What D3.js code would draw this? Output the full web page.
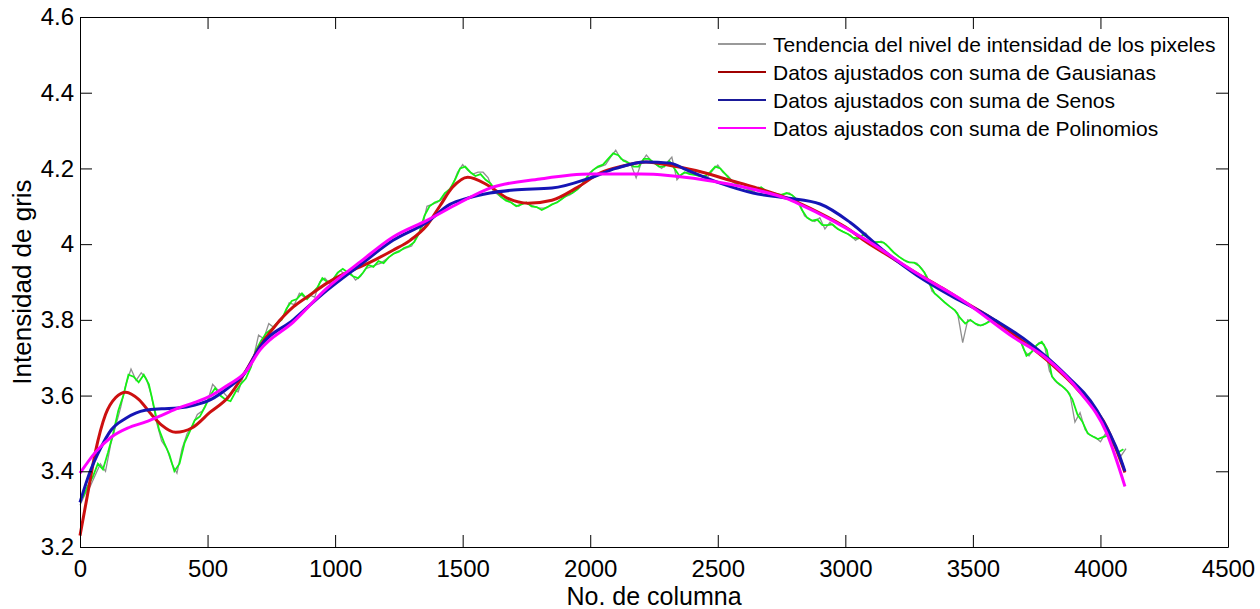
<!DOCTYPE html>
<html>
<head>
	<meta charset="utf-8">
	<title>Intensidad de gris</title>
	<script src="https://cdnjs.cloudflare.com/ajax/libs/d3/7.8.5/d3.min.js"></script>
	<style>
		body { margin: 0; background: #fff; }
		svg { display: block; font-family: "Liberation Sans", Arial, sans-serif; }
		.axis text { font-size: 24px; fill: #000; }
		.axis path, .axis line { stroke: #000; stroke-width: 1; }
	</style>
</head>
<body>
<svg id="chart" width="1260" height="609"></svg>
<script>
// ticks
const xTicks = [0, 500, 1000, 1500, 2000, 2500, 3000, 3500, 4000, 4500];
const yTicks = [3.2, 3.4, 3.6, 3.8, 4.0, 4.2, 4.4, 4.6];
const yTickLabels = ["3.2", "3.4", "3.6", "3.8", "4", "4.2", "4.4", "4.6"];

// raw pixel trend (gray), one value every 20 columns starting at 0
const grayStep = 20;
const grayValues = [
	3.31, 3.34, 3.36, 3.39, 3.42, 3.40, 3.47, 3.52, 3.57, 3.63,
	3.67, 3.64, 3.66, 3.645, 3.60, 3.53, 3.48, 3.46, 3.42, 3.395,
	3.46, 3.50, 3.52, 3.55, 3.56, 3.585, 3.63, 3.615, 3.61, 3.595,
	3.615, 3.61, 3.65, 3.67, 3.70, 3.76, 3.75, 3.79, 3.78, 3.80,
	3.81, 3.845, 3.84, 3.87, 3.86, 3.865, 3.86, 3.90, 3.91, 3.895,
	3.915, 3.93, 3.92, 3.925, 3.905, 3.915, 3.935, 3.94, 3.945, 3.95,
	3.96, 3.97, 3.98, 3.985, 3.99, 3.995, 4.02, 4.04, 4.10, 4.105,
	4.11, 4.12, 4.14, 4.155, 4.19, 4.21, 4.195, 4.185, 4.19, 4.19,
	4.175, 4.14, 4.13, 4.12, 4.115, 4.105, 4.10, 4.11, 4.105, 4.10,
	4.095, 4.095, 4.10, 4.108, 4.115, 4.125, 4.13, 4.14, 4.15, 4.165,
	4.19, 4.20, 4.205, 4.21, 4.23, 4.248, 4.225, 4.22, 4.21, 4.175,
	4.215, 4.235, 4.22, 4.21, 4.20, 4.215, 4.23, 4.17, 4.185, 4.19,
	4.185, 4.182, 4.18, 4.177, 4.195, 4.209, 4.19, 4.18, 4.165, 4.155,
	4.15, 4.145, 4.137, 4.15, 4.145, 4.137, 4.135, 4.13, 4.132, 4.135,
	4.125, 4.11, 4.075, 4.065, 4.06, 4.07, 4.04, 4.058, 4.045, 4.037,
	4.03, 4.024, 4.01, 4.02, 4.029, 4.008, 4.003, 4.008, 4.00, 3.984,
	3.972, 3.962, 3.953, 3.952, 3.95, 3.935, 3.915, 3.875, 3.865, 3.852,
	3.84, 3.83, 3.818, 3.74, 3.80, 3.795, 3.785, 3.786, 3.795, 3.80,
	3.795, 3.785, 3.778, 3.765, 3.755, 3.72, 3.705, 3.725, 3.74, 3.735,
	3.665, 3.64, 3.628, 3.62, 3.605, 3.53, 3.555, 3.51, 3.495, 3.49,
	3.478, 3.50, 3.48, 3.46, 3.44, 3.46
];

// second noisy trace (green), one value every 20 columns starting at 10
const greenStart = 10;
const greenStep = 20;
const greenValues = [
	3.33, 3.36, 3.385, 3.42, 3.405, 3.45, 3.50, 3.56, 3.60, 3.655,
	3.65, 3.635, 3.655, 3.63, 3.57, 3.51, 3.475, 3.445, 3.40, 3.42,
	3.475, 3.505, 3.535, 3.545, 3.57, 3.60, 3.62, 3.60, 3.59, 3.585,
	3.61, 3.63, 3.645, 3.675, 3.72, 3.745, 3.765, 3.775, 3.79, 3.80,
	3.83, 3.85, 3.855, 3.87, 3.855, 3.87, 3.885, 3.91, 3.90, 3.905,
	3.925, 3.935, 3.925, 3.915, 3.91, 3.925, 3.945, 3.94, 3.955, 3.95,
	3.965, 3.975, 3.98, 3.99, 3.995, 4.005, 4.03, 4.075, 4.10, 4.11,
	4.115, 4.135, 4.145, 4.17, 4.20, 4.205, 4.19, 4.18, 4.185, 4.17,
	4.16, 4.14, 4.125, 4.115, 4.11, 4.10, 4.105, 4.11, 4.10, 4.098,
	4.09, 4.097, 4.105, 4.11, 4.12, 4.13, 4.135, 4.145, 4.16, 4.18,
	4.195, 4.205, 4.21, 4.225, 4.24, 4.235, 4.22, 4.215, 4.205, 4.205,
	4.225, 4.225, 4.215, 4.205, 4.205, 4.22, 4.20, 4.18, 4.19, 4.185,
	4.183, 4.18, 4.18, 4.19, 4.205, 4.20, 4.185, 4.17, 4.16, 4.152,
	4.148, 4.14, 4.145, 4.15, 4.14, 4.136, 4.133, 4.13, 4.135, 4.13,
	4.118, 4.09, 4.07, 4.062, 4.065, 4.05, 4.05, 4.052, 4.04, 4.033,
	4.027, 4.017, 4.015, 4.025, 4.018, 4.005, 4.006, 4.004, 3.992, 3.978,
	3.967, 3.958, 3.952, 3.951, 3.942, 3.925, 3.895, 3.87, 3.858, 3.846,
	3.835, 3.825, 3.805, 3.79, 3.80, 3.79, 3.785, 3.79, 3.798, 3.80,
	3.79, 3.78, 3.772, 3.76, 3.74, 3.705, 3.715, 3.733, 3.742, 3.72,
	3.65, 3.635, 3.625, 3.612, 3.59, 3.55, 3.53, 3.50, 3.492, 3.485,
	3.49, 3.495, 3.472, 3.45, 3.458
];

// fitted curves: [column, intensity]
const gaussFit = [
	[0, 3.23], [30, 3.34], [60, 3.45], [100, 3.55], [140, 3.595], [180, 3.609],
	[230, 3.59], [280, 3.55], [320, 3.522], [375, 3.503], [440, 3.515], [510, 3.556],
	[580, 3.595], [650, 3.665], [710, 3.735], [760, 3.78], [836, 3.834], [900, 3.865],
	[968, 3.897], [1030, 3.92], [1098, 3.94], [1160, 3.96], [1227, 3.984], [1294, 4.01],
	[1360, 4.05], [1410, 4.10], [1460, 4.15], [1520, 4.177], [1600, 4.155], [1680, 4.12],
	[1756, 4.108], [1850, 4.116], [1950, 4.15], [2040, 4.188], [2120, 4.205], [2220, 4.217],
	[2320, 4.207], [2440, 4.19], [2540, 4.17], [2640, 4.151], [2770, 4.122], [2900, 4.082],
	[3000, 4.045], [3084, 4.005], [3180, 3.965], [3280, 3.923], [3380, 3.884], [3476, 3.844],
	[3560, 3.81], [3659, 3.762], [3789, 3.694], [3920, 3.609], [4025, 3.516], [4096, 3.397]
];
const sineFit = [
	[0, 3.318], [40, 3.40], [80, 3.46], [122, 3.509], [180, 3.54], [255, 3.561],
	[320, 3.565], [384, 3.567], [450, 3.575], [514, 3.59], [580, 3.62], [646, 3.66],
	[705, 3.728], [836, 3.80], [968, 3.878], [1098, 3.945], [1227, 4.01], [1360, 4.058],
	[1450, 4.105], [1521, 4.122], [1607, 4.135], [1700, 4.143], [1850, 4.148], [2000, 4.175],
	[2100, 4.20], [2215, 4.217], [2313, 4.214], [2378, 4.196], [2509, 4.161], [2638, 4.135],
	[2771, 4.122], [2901, 4.106], [3018, 4.058], [3148, 3.984], [3280, 3.918], [3410, 3.865],
	[3540, 3.818], [3724, 3.738], [3853, 3.662], [3986, 3.561], [4077, 3.437], [4096, 3.40]
];
const polyFit = [
	[0, 3.395], [60, 3.45], [122, 3.49], [190, 3.515], [255, 3.53], [320, 3.548],
	[384, 3.567], [450, 3.582], [514, 3.60], [580, 3.628], [646, 3.66], [705, 3.72],
	[836, 3.794], [968, 3.884], [1098, 3.953], [1227, 4.019], [1360, 4.063], [1490, 4.11],
	[1607, 4.148], [1803, 4.172], [2000, 4.185], [2200, 4.185], [2442, 4.17], [2638, 4.145],
	[2771, 4.12], [2822, 4.105], [3084, 4.01], [3280, 3.923], [3476, 3.844], [3659, 3.754],
	[3789, 3.698], [3920, 3.609], [4025, 3.50], [4096, 3.36]
];

const legendLabels = [
	"Tendencia del nivel de intensidad de los pixeles",
	"Datos ajustados con suma de Gausianas",
	"Datos ajustados con suma de Senos",
	"Datos ajustados con suma de Polinomios"
];
const legendColors = ["#999999", "#a00000", "#1a1a9a", "#ff00ff"];

const svg = d3.select("#chart");
const plotLeft = 80, plotRight = 1228, plotTop = 17, plotBottom = 547;

const x = d3.scaleLinear().domain([0, 4500]).range([plotLeft, plotRight]);
const y = d3.scaleLinear().domain([3.2, 4.6]).range([plotBottom, plotTop]);

// noisy traces
const grayPts = grayValues.map((v, i) => [i * grayStep, v]);
const greenPts = greenValues.map((v, i) => [greenStart + i * greenStep, v]);

const rawLine = d3.line().x(d => x(d[0])).y(d => y(d[1]));
const fitLine = d3.line().x(d => x(d[0])).y(d => y(d[1])).curve(d3.curveMonotoneX);

svg.append("path").datum(grayPts)
	.attr("d", rawLine).attr("fill", "none")
	.attr("stroke", "#8f8f8f").attr("stroke-width", 1.3);
svg.append("path").datum(greenPts)
	.attr("d", rawLine).attr("fill", "none")
	.attr("stroke", "#14f014").attr("stroke-width", 1.8);

svg.append("path").datum(gaussFit)
	.attr("d", fitLine).attr("fill", "none")
	.attr("stroke", "#cc1010").attr("stroke-width", 3);
svg.append("path").datum(sineFit)
	.attr("d", fitLine).attr("fill", "none")
	.attr("stroke", "#1515b5").attr("stroke-width", 3);
svg.append("path").datum(polyFit)
	.attr("d", fitLine).attr("fill", "none")
	.attr("stroke", "#ff00ff").attr("stroke-width", 3);

// axes, ticks pointing inward on all four sides
svg.append("g").attr("class", "axis")
	.attr("transform", `translate(0,${plotBottom})`)
	.call(d3.axisBottom(x).tickValues(xTicks).tickSizeInner(-12).tickSizeOuter(0).tickPadding(13).tickFormat(d3.format("d")));
svg.append("g").attr("class", "axis")
	.attr("transform", `translate(0,${plotTop})`)
	.call(d3.axisTop(x).tickValues(xTicks).tickSizeInner(-12).tickSizeOuter(0).tickFormat(""));
svg.append("g").attr("class", "axis")
	.attr("transform", `translate(${plotLeft},0)`)
	.call(d3.axisLeft(y).tickValues(yTicks).tickSizeInner(-12).tickSizeOuter(0).tickPadding(6)
		.tickFormat((d, i) => yTickLabels[i]));
svg.append("g").attr("class", "axis")
	.attr("transform", `translate(${plotRight},0)`)
	.call(d3.axisRight(y).tickValues(yTicks).tickSizeInner(-12).tickSizeOuter(0).tickFormat(""));

// axis titles
svg.append("text")
	.attr("x", (plotLeft + plotRight) / 2).attr("y", 605)
	.attr("text-anchor", "middle").attr("font-size", 25)
	.text("No. de columna");
svg.append("text")
	.attr("transform", `translate(31,${(plotTop + plotBottom) / 2}) rotate(-90)`)
	.attr("text-anchor", "middle").attr("font-size", 26)
	.text("Intensidad de gris");

// legend (no box)
const legend = svg.append("g").selectAll("g")
	.data(legendLabels)
	.join("g")
	.attr("transform", (d, i) => `translate(718,${44 + i * 28})`);
legend.append("line")
	.attr("x1", 0).attr("x2", 48)
	.attr("stroke", (d, i) => legendColors[i]).attr("stroke-width", 2);
legend.append("text")
	.attr("x", 55).attr("y", 7.5)
	.attr("font-size", 21)
	.text(d => d);
</script>
</body>
</html>
